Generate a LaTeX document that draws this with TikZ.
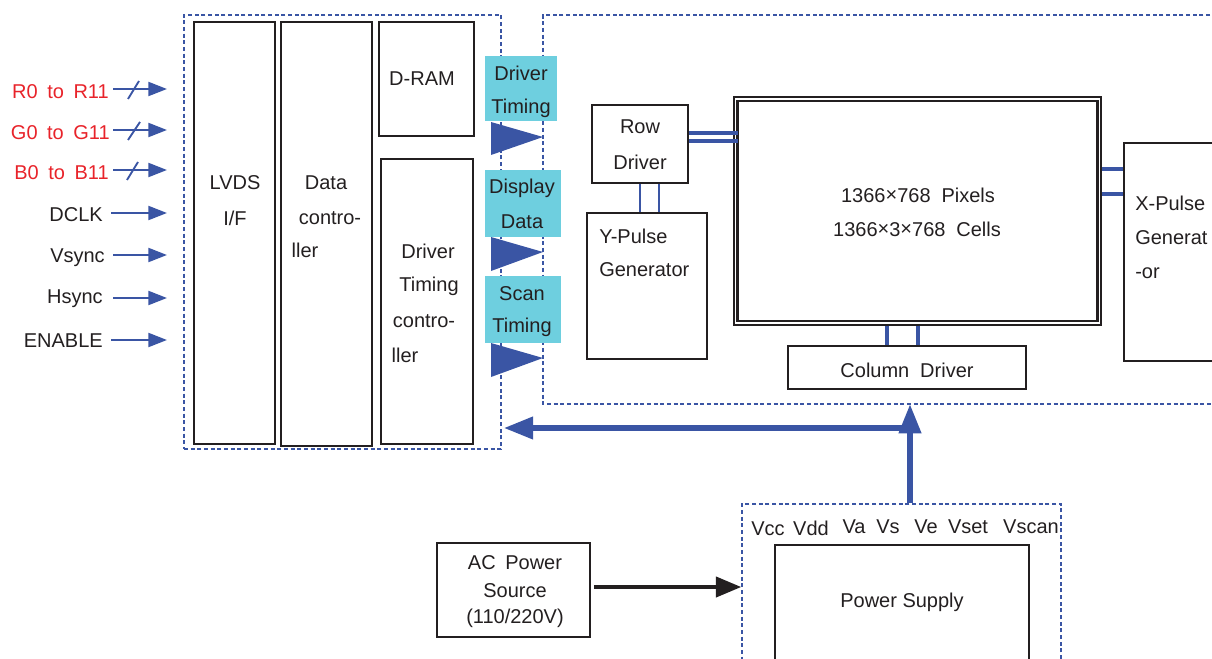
\documentclass[tikz,border=0pt]{standalone}
\usepackage{fontspec}
\setmainfont{Liberation Sans}
\usetikzlibrary{arrows.meta,fit}
\definecolor{ink}{HTML}{231F20}
\definecolor{bblue}{HTML}{3A55A4}
\definecolor{cyanbox}{HTML}{6ECFDF}
\definecolor{sred}{HTML}{E8232A}
\begin{document}
\begin{tikzpicture}[x=0.75pt,y=-0.75pt,
  every node/.style={font=\fontsize{15}{18}\selectfont, text=ink, inner sep=0pt},
  blk/.style={draw=ink, line width=1.4pt, inner sep=0pt},
  dashbox/.style={draw=bblue, line width=1.1pt, dash pattern=on 3pt off 2pt, inner sep=0pt},
  cyanfill/.style={fill=cyanbox, inner sep=0pt},
  thinwire/.style={draw=bblue, line width=1.4pt},
  thickwire/.style={draw=bblue, line width=2.8pt},
  inarrow/.style={draw=bblue, line width=1.6pt, -{Triangle[length=14pt,width=10.5pt,color=bblue]}},
  slashmark/.style={draw=bblue, line width=1.4pt},
  redlbl/.style={text=sred, anchor=east},
  blklbl/.style={anchor=east},
  bigarrow/.style={draw=bblue, line width=4.5pt, -{Triangle[length=22pt,width=16pt]}},
  blackarrow/.style={draw=ink, line width=3pt, -{Triangle[length=19pt,width=15pt]}},
  tri/.style={fill=bblue}
]
\useasboundingbox (0,0) rectangle (1212,659);
\clip (0,0) rectangle (1212,659);

% dashed frames
\node[dashbox, fit={(184,15) (501,449)}] (ctrl) {};
\draw[dashbox] (1230,15) -- (543,15) -- (543,404) -- (1230,404);
\coordinate (rtl) at (543,15);
\node[dashbox, fit={(742,504) (1061,700)}] (pwrframe) {};

% controller boxes
\node[blk, fit={(194,22) (275,444)}] (lvds) {};
\node[blk, fit={(281,22) (372,446)}] (dctrl) {};
\node[blk, fit={(379,22) (474,136)}] (dram) {};
\node[blk, fit={(381,159) (473,444)}] (dtc) {};

\node (t1) at (235,183) {LVDS};
\node (t2) at (235,218) {I/F};
\node (t3) at (326,183) {Data};
\node (t4) at (330,218) {contro-};
\node (t5) at (305,250) {ller};
\node (t6) at (422,79) {D-RAM};
\node (t7) at (428,251) {Driver};
\node (t8) at (429,286) {Timing};
\node (t9) at (424,321) {contro-};
\node (t10) at (405,355) {ller};

% cyan signal labels and triangles
\node[cyanfill, fit={(485,56) (557,121)}] (c1) {};
\node[cyanfill, fit={(485,170) (561,237)}] (c2) {};
\node[cyanfill, fit={(485,276) (561,343)}] (c3) {};
\node (c1a) at (521,73) {Driver};
\node (c1b) at (521,108) {Timing};
\node (c2a) at (522,188) {Display};
\node (c2b) at (522,222) {Data};
\node (c3a) at (522,294) {Scan};
\node (c3b) at (522,327) {Timing};
\fill[tri] (491,122) -- (543,137) -- (491,155) -- cycle;
\fill[tri] (491,237) -- (543,252) -- (491,271) -- cycle;
\fill[tri] (491,343) -- (543,358) -- (491,377) -- cycle;

% inputs
\node[redlbl] (lr) at (109,92) {R0\hspace{3pt} to\hspace{3pt} R11};
\node[redlbl] (lg) at (110,133) {G0\hspace{3pt} to\hspace{3pt} G11};
\node[redlbl] (lb) at (109,173) {B0\hspace{3pt} to\hspace{3pt} B11};
\node[blklbl] (ld) at (103,215) {DCLK};
\node[blklbl] (lv) at (105,258) {Vsync};
\node[blklbl] (lh) at (103,299) {Hsync};
\node[blklbl] (le) at (103,341) {ENABLE};
\coordinate (er) at (167,89);
\coordinate (eg) at (167,130);
\coordinate (eb) at (167,170);
\coordinate (ed) at (167,213);
\coordinate (ev) at (167,255);
\coordinate (eh) at (167,298);
\coordinate (ee) at (167,340);
\draw[inarrow] (lr.east |- er) ++(4,0) -- (er);
\draw[inarrow] (lg.east |- eg) ++(3,0) -- (eg);
\draw[inarrow] (lb.east |- eb) ++(4,0) -- (eb);
\draw[inarrow] (ld.east |- ed) ++(8,0) -- (ed);
\draw[inarrow] (lv.east |- ev) ++(8,0) -- (ev);
\draw[inarrow] (lh.east |- eh) ++(10,0) -- (eh);
\draw[inarrow] (le.east |- ee) ++(8,0) -- (ee);
\draw[slashmark] (128,99) -- (139,81);
\draw[slashmark] (128,140) -- (140,122);
\draw[slashmark] (127,180) -- (138,162);

% row driver, Y-pulse
\node[blk, fit={(592,105) (688,183)}] (rowd) {};
\node (rd1) at (640,127) {Row};
\node (rd2) at (640,162) {Driver};
\node[blk, fit={(587,213) (707,359)}] (ypg) {};
\node[anchor=west] (yp1) at (599,236) {Y-Pulse};
\node[anchor=west] (yp2) at (599,270) {Generator};
\draw[thinwire] (rowd.south -| 640,0) -- (ypg.north -| 640,0);
\draw[thinwire] (rowd.south -| 659,0) -- (ypg.north -| 659,0);

% panel
\node[draw=ink, line width=1pt, inner sep=0pt, fit={(734,97) (1101,325)}] (panel) {};
\draw[ink, line width=2pt] (737.5,101) rectangle (1097.5,321);
\node (p1) at (918,195) {1366\raisebox{0.5pt}{×}768\hspace{4pt} Pixels};
\node (p2) at (917,229) {1366\raisebox{0.5pt}{×}3\raisebox{0.5pt}{×}768\hspace{4pt} Cells};
\draw[thickwire] (rowd.east |- 0,133) -- (738,133);
\draw[thickwire] (rowd.east |- 0,141) -- (738,141);

% column driver
\node[blk, fit={(788,346) (1026,389)}] (cold) {};
\node (cd) at (907,370) {Column\hspace{4pt} Driver};
\draw[thickwire] (panel.south -| 887,0) -- (cold.north -| 887,0);
\draw[thickwire] (panel.south -| 918,0) -- (cold.north -| 918,0);

% X-pulse
\node[blk, fit={(1124,143) (1240,361)}] (xpg) {};
\node[anchor=west] (xp1) at (1135,203) {X-Pulse};
\node[anchor=west] (xp2) at (1135,238) {Generat};
\node[anchor=west] (xp3) at (1135,273) {-or};
\draw[thickwire] (panel.east |- 0,169) -- (xpg.west |- 0,169);
\draw[thickwire] (panel.east |- 0,194) -- (xpg.west |- 0,194);

% power supply
\node[blk, fit={(775,545) (1029,700)}] (psu) {};
\node (psl) at (902,602) {Power Supply};
\node[anchor=base] (v1) at (768,535) {Vcc};
\node[anchor=base] (v2) at (811,535) {Vdd};
\node[anchor=base] (v3) at (854,533) {Va};
\node[anchor=base] (v4) at (888,533) {Vs};
\node[anchor=base] (v5) at (926,533) {Ve};
\node[anchor=base] (v6) at (968,533) {Vset};
\node[anchor=base] (v7) at (1031,533) {Vscan};

% AC source
\node[blk, fit={(437,543) (590,637)}] (ac) {};
\node (ac1) at (515,563) {AC\hspace{3pt} Power};
\node (ac2) at (515,591) {Source};
\node (ac3) at (515,618) {(110/220V)};
\draw[blackarrow] (ac.east |- 0,587) ++(3,0) -- (pwrframe.west |- 0,587);

% power distribution arrows
\coordinate (up) at (910,404);
\coordinate (junc) at (910,428);
\draw[bigarrow] (pwrframe.north -| up) -- (up);
\draw[bigarrow] (junc) -- ([xshift=1.5pt]ctrl.east |- junc);
\end{tikzpicture}
\end{document}
